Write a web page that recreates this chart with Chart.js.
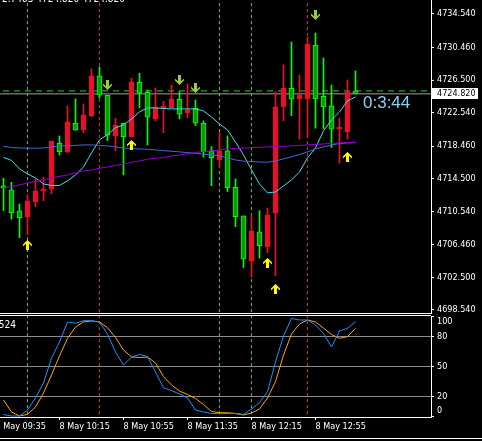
<!DOCTYPE html>
<html>
<head>
<meta charset="utf-8">
<script src="https://cdn.jsdelivr.net/npm/chart.js@4.4.0/dist/chart.umd.min.js"></script>
<style>
html, body { margin:0; padding:0; background:#000; overflow:hidden; }
#wrap { position:relative; width:482px; height:441px; background:#000; }
canvas { position:absolute; left:0; }
#main { top:0; }
#sub { top:314px; }
</style>
</head>
<body>
<div id="wrap">
	<canvas id="main" width="482" height="314"></canvas>
	<canvas id="sub" width="482" height="127"></canvas>
</div>
<script>
// 5 minute candles, bar 0 = 8 May 09:40
var opens  = [4713.62,4713.13,4710.58,4709.89,4711.71,4713.01,4713.22,4718.81,4717.79,4721.25,4720.47,4722.17,4727.00,4724.65,4719.74,4721.25,4719.62,4726.23,4725.05,4721.77,4723.05,4723.14,4724.17,4722.54,4723.07,4721.25,4717.88,4716.78,4717.88,4713.46,4709.97,4704.54,4708.03,4706.24,4710.37,4723.27,4725.50,4724.24,4724.24,4730.73,4724.53,4723.35,4720.52,4720.23,4725.18];
var highs  = [4714.56,4714.07,4711.43,4712.53,4714.44,4714.68,4719.09,4719.70,4723.35,4724.20,4723.59,4727.85,4728.09,4724.65,4721.86,4721.25,4726.72,4727.33,4725.30,4725.54,4723.92,4725.90,4725.09,4726.03,4724.08,4721.53,4718.40,4720.10,4719.70,4714.47,4709.97,4710.09,4710.62,4710.91,4725.09,4728.34,4731.13,4727.12,4731.71,4732.23,4729.19,4725.90,4721.89,4726.51,4727.61];
var lows   = [4710.62,4709.57,4707.33,4707.66,4711.10,4711.83,4712.65,4717.39,4717.67,4720.40,4720.10,4722.05,4724.29,4719.13,4717.91,4714.96,4719.62,4723.14,4718.61,4721.53,4720.10,4723.14,4721.77,4721.93,4720.96,4717.11,4713.66,4715.90,4712.93,4708.67,4703.69,4702.52,4704.83,4705.51,4702.71,4721.56,4722.17,4719.30,4719.54,4720.64,4720.59,4718.28,4716.38,4719.30,4724.82];
var closes = [4713.38,4710.37,4709.77,4711.80,4713.01,4713.05,4719.09,4717.79,4721.41,4720.40,4722.26,4727.00,4724.65,4719.79,4721.00,4719.62,4726.27,4724.90,4721.98,4723.19,4723.10,4724.17,4722.34,4722.86,4721.25,4717.79,4717.06,4717.88,4713.41,4709.89,4704.71,4708.15,4706.36,4710.09,4723.23,4725.50,4724.17,4724.65,4730.89,4724.24,4723.27,4720.52,4720.68,4725.02,4724.82];

var fastMA = [4717.09,4716.72,4715.69,4715.08,4714.59,4713.86,4713.68,4713.68,4714.23,4714.96,4715.93,4717.63,4719.22,4719.88,4720.68,4721.04,4721.77,4722.62,4723.11,4723.11,4723.05,4722.99,4722.99,4722.99,4722.99,4722.74,4722.01,4721.16,4720.43,4718.97,4717.39,4715.57,4713.86,4712.77,4712.89,4713.62,4714.35,4715.32,4717.03,4718.24,4720.31,4721.65,4722.62,4723.96,4724.45];
var midMA  = [4718.43,4718.30,4718.24,4718.21,4718.21,4718.24,4718.36,4718.49,4718.49,4718.55,4718.61,4718.61,4718.55,4718.49,4718.36,4718.24,4718.18,4718.12,4718.08,4718.00,4717.91,4717.84,4717.76,4717.67,4717.60,4717.48,4717.39,4717.27,4717.03,4716.78,4716.63,4716.58,4716.54,4716.50,4716.66,4716.91,4717.15,4717.45,4717.76,4718.12,4718.36,4718.61,4718.77,4718.85,4718.89];
var slowMA = [4713.38,4713.56,4713.74,4713.99,4714.17,4714.35,4714.59,4714.78,4714.96,4715.20,4715.45,4715.57,4715.77,4715.93,4716.11,4716.30,4716.48,4716.66,4716.87,4716.97,4717.09,4717.27,4717.39,4717.51,4717.70,4717.79,4717.88,4718.00,4718.12,4718.18,4718.22,4718.27,4718.33,4718.36,4718.40,4718.43,4718.49,4718.55,4718.61,4718.67,4718.73,4718.79,4718.85,4718.89,4718.94];

var stochMain   = [1.7,0.2,0.2,6.2,18.3,33.4,58.5,74.6,94.7,93.4,96.0,96.0,94.7,82.6,64.5,51.5,59.5,62.0,60.0,44.4,28.6,25.8,22.3,18.3,6.2,4.2,2.7,2.5,2.7,2.7,1.9,7.2,13.8,24.6,54.5,80.6,98.2,96.7,96.7,91.7,83.3,69.5,85.6,88.3,95.0];
var stochSignal = [16.3,4.2,0.2,1.9,9.2,23.3,41.4,60.5,78.3,89.6,94.7,95.7,94.7,88.9,79.1,66.5,59.5,59.0,59.5,53.5,39.7,31.4,25.3,21.8,17.8,11.8,4.7,3.5,3.5,2.7,1.2,3.2,7.2,18.3,34.7,61.5,82.6,92.7,96.7,94.7,88.6,82.1,78.3,79.9,88.3];
var stochLevels = [80, 50, 20];
var stochTicks = [100, 80, 50, 20, 0];

var buyBars = [3, 16, 33, 34, 43];
var buyPrices = [4706.45, 4718.61, 4704.26, 4701.09, 4717.15];
var sellBars = [13, 22, 24, 39];
var sellPrices = [4725.90, 4726.51, 4725.54, 4734.42];

var markerBars = [3, 12, 27, 31, 38];
var markerKinds = ["day", "signal", "day", "day", "signal"];

var priceTicks = [4734.54, 4730.46, 4726.50, 4722.54, 4718.46, 4714.50, 4710.54, 4706.46, 4702.50, 4698.54];
var timeTickBars = [-1, 7, 15, 23, 31, 39];
var timeTickLabels = ["8 May 09:35", "8 May 10:15", "8 May 10:55", "8 May 11:35", "8 May 12:15", "8 May 12:55"];

var bidPrice = 4724.82;
var askPrice = 4725.18;
var countdown = "0:3:44";
var headerText = "2.7483 4724.820 4724.820";
var stochText = "Stoch(5,3,3) 95.0524";

var FONT = '"DejaVu Sans Condensed", "Liberation Sans", sans-serif';
var RED = "#e8102c", LIME = "#00ff00", GREEN = "#00a000";
var xMin = -0.4375, xMax = 53.4375;
var yMin = 4698.16, yMax = 4736.24;

Chart.defaults.font.family = FONT;
Chart.defaults.font.size = 9;
Chart.defaults.color = "#ffffff";
Chart.defaults.animation = false;

function arrowImage(color, up)
{
	var c = document.createElement("canvas");
	c.width = 9; c.height = 10;
	var g = c.getContext("2d");
	var pts = [[4.5,0],[9,4.5],[9,6.5],[6,3.8],[6,10],[3,10],[3,3.8],[0,6.5],[0,4.5]];
	g.fillStyle = color;
	g.beginPath();
	for(var i = 0; i < pts.length; i++){
		var y = up ? pts[i][1] : 10 - pts[i][1];
		if(i == 0) g.moveTo(pts[i][0], y); else g.lineTo(pts[i][0], y);
	}
	g.closePath();
	g.fill();
	return c;
}

function points(xs, ys)
{
	var out = [];
	for(var i = 0; i < xs.length; i++) out.push({x: xs[i], y: ys[i]});
	return out;
}

function lineSet(data, color, order)
{
	return {type: "line", data: data, borderColor: color, borderWidth: 1, pointRadius: 0, tension: 0, order: order};
}

function markerSets(lo, hi)
{
	var sets = [];
	for(var j = 0; j < markerBars.length; j++){
		var s = lineSet([{x: markerBars[j], y: lo}, {x: markerBars[j], y: hi}], markerKinds[j] == "day" ? "#32cd32" : "#e62030", 6);
		s.borderDash = [3, 3];
		sets.push(s);
	}
	return sets;
}

var bars = [], bodyData = [], wickData = [], up = [];
for(var i = 0; i < opens.length; i++){
	bars.push(i);
	bodyData.push({x: i, y: [opens[i], closes[i]]});
	wickData.push({x: i, y: [lows[i], highs[i]]});
	up.push(closes[i] >= opens[i]);
}

var mainDatasets = [
	{type: "bar", data: bodyData, grouped: false, barThickness: 5, minBarLength: 2, borderSkipped: false, borderWidth: 1,
		backgroundColor: up.map(function(u){ return u ? RED : GREEN; }),
		borderColor: up.map(function(u){ return u ? RED : LIME; }), order: 2},
	{type: "bar", data: wickData, grouped: false, barThickness: 1, borderWidth: 0,
		backgroundColor: up.map(function(u){ return u ? RED : LIME; }), order: 3},
	lineSet(points(bars, slowMA), "#9400d3", 1),
	lineSet(points(bars, midMA), "#4169e1", 1),
	lineSet(points(bars, fastMA), "#3ee0ee", 1),
	{type: "line", data: points(buyBars, buyPrices), showLine: false, pointStyle: arrowImage("#ffff00", true), order: 0},
	{type: "line", data: points(sellBars, sellPrices), showLine: false, pointStyle: arrowImage("#9acd32", false), order: 0}
];
var ask = lineSet([{x: xMin - 1, y: askPrice}, {x: xMax + 1, y: askPrice}], "#32cd32", 5);
ask.borderDash = [6, 5];
mainDatasets.push(ask);
mainDatasets.push(lineSet([{x: xMin - 1, y: bidPrice}, {x: xMax + 1, y: bidPrice}], "#a0a0a0", 5));
mainDatasets = mainDatasets.concat(markerSets(yMin - 5, yMax + 5));

var mainDecor = {
	id: "mainDecor",
	afterDraw: function(chart){
		var g = chart.ctx, a = chart.chartArea;
		var py = chart.scales.y.getPixelForValue(bidPrice);
		g.save();
		g.strokeStyle = "#fff"; g.lineWidth = 1;
		g.beginPath(); g.moveTo(0, a.bottom + 0.5); g.lineTo(a.right, a.bottom + 0.5); g.stroke();
		g.fillStyle = "#fff";
		g.fillRect(a.right + 1, Math.round(py) - 6, 46, 11);
		g.fillStyle = "#000"; g.font = "9px " + FONT; g.textBaseline = "middle"; g.textAlign = "left";
		g.fillText(bidPrice.toFixed(3), a.right + 6, py);
		g.fillStyle = "#87cefa"; g.font = '17px "Liberation Sans", Arial, sans-serif';
		g.fillText(countdown, 363, py + 9);
		g.fillStyle = "#fff"; g.font = "10px " + FONT; g.textBaseline = "alphabetic";
		g.fillText(headerText, 2, 2);
		g.restore();
	}
};

var mChart = new Chart(document.getElementById("main"), {
	type: "bar",
	data: {datasets: mainDatasets},
	options: {
		responsive: false, devicePixelRatio: 1,
		layout: {autoPadding: false, padding: {top: 0, left: 0, right: 0, bottom: 1}},
		plugins: {legend: {display: false}, tooltip: {enabled: false}},
		scales: {
			x: {type: "linear", display: false, min: xMin, max: xMax, offset: false, grid: {offset: false}},
			y: {type: "linear", position: "right", min: yMin, max: yMax,
				afterBuildTicks: function(s){ s.ticks = priceTicks.map(function(v){ return {value: v}; }); },
				afterFit: function(s){ s.width = 51; s.paddingTop = 0; s.paddingBottom = 0; },
				ticks: {color: "#fff", padding: 3, callback: function(v){ return Number(v).toFixed(3); }},
				grid: {drawOnChartArea: false, drawTicks: true, tickLength: 3, tickColor: "#fff"},
				border: {color: "#fff", width: 1}}
		}
	},
	plugins: [mainDecor]
});

var subDatasets = [
	lineSet(points(bars, stochSignal), "#ffa500", 1),
	lineSet(points(bars, stochMain), "#1e90ff", 0)
].concat(markerSets(-10, 110));

var subDecor = {
	id: "subDecor",
	afterDraw: function(chart){
		var g = chart.ctx, a = chart.chartArea, ys = chart.scales.y;
		g.save();
		g.strokeStyle = "#fff"; g.lineWidth = 1;
		g.beginPath(); g.moveTo(0, a.top - 0.5); g.lineTo(a.right, a.top - 0.5); g.stroke();
		g.beginPath(); g.moveTo(0, 124.5); g.lineTo(chart.width, 124.5); g.stroke();
		g.fillStyle = "#fff"; g.font = "9px " + FONT; g.textBaseline = "middle";
		g.textAlign = "left";
		for(var i = 0; i < stochTicks.length; i++){
			var p = Math.min(Math.max(ys.getPixelForValue(stochTicks[i]), a.top + 6), a.bottom - 6);
			g.fillText(String(stochTicks[i]), a.right + 6, p);
		}
		g.font = "10px " + FONT; g.textAlign = "right";
		g.fillText(stochText, 16, a.top + 9);
		g.restore();
	}
};

var sChart = new Chart(document.getElementById("sub"), {
	type: "line",
	data: {datasets: subDatasets},
	options: {
		responsive: false, devicePixelRatio: 1,
		layout: {autoPadding: false, padding: {top: 2, left: 0, right: 0, bottom: 0}},
		plugins: {legend: {display: false}, tooltip: {enabled: false}},
		scales: {
			x: {type: "linear", position: "bottom", min: xMin, max: xMax, offset: false,
				afterBuildTicks: function(s){ s.ticks = timeTickBars.map(function(v){ return {value: v}; }); },
				afterFit: function(s){ s.height = 24; s.paddingLeft = 0; s.paddingRight = 0; },
				ticks: {autoSkip: false, maxRotation: 0, align: "start", padding: 1, color: "#fff",
					callback: function(v, i){ return timeTickLabels[i]; }},
				grid: {drawOnChartArea: false, drawTicks: true, tickLength: 3, tickColor: "#fff"},
				border: {color: "#fff", width: 1}},
			y: {type: "linear", position: "right", min: -0.8, max: 100.7,
				afterBuildTicks: function(s){ s.ticks = stochTicks.map(function(v){ return {value: v}; }); },
				afterFit: function(s){ s.width = 51; s.paddingTop = 0; s.paddingBottom = 0; },
				ticks: {display: false},
				grid: {drawTicks: true, tickLength: 3, tickColor: "#fff",
					color: function(c){ return c.tick && stochLevels.indexOf(c.tick.value) >= 0 ? "#8c8c8c" : "rgba(0,0,0,0)"; }},
				border: {color: "#fff", width: 1}}
		}
	},
	plugins: [subDecor]
});
</script>
</body>
</html>
